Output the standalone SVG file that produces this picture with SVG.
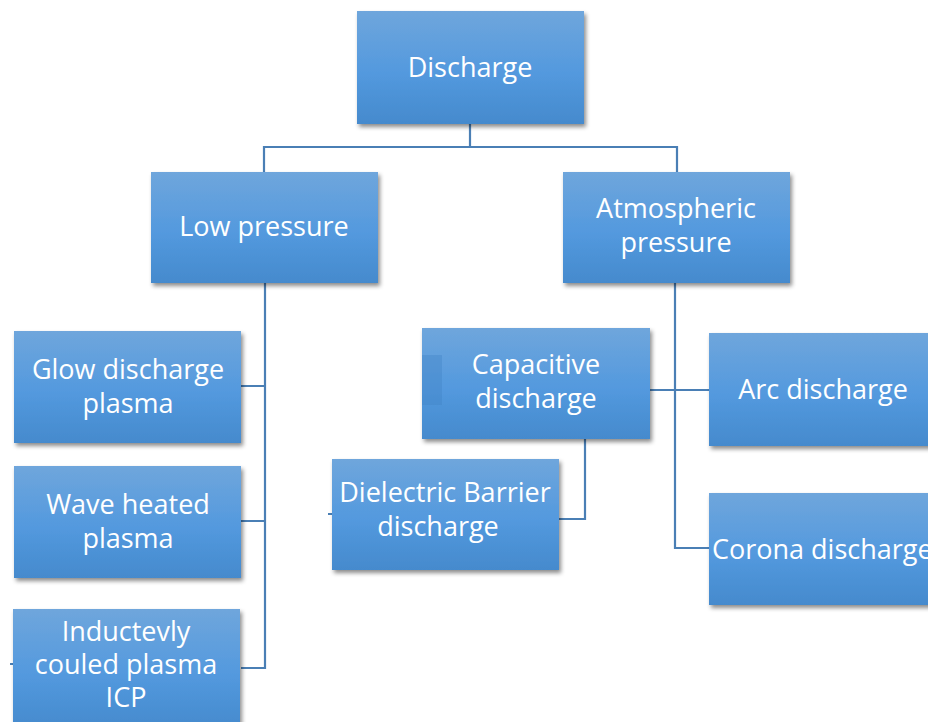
<svg xmlns="http://www.w3.org/2000/svg" width="928" height="722" viewBox="0 0 928 722">
<defs>
<linearGradient id="g" x1="0" y1="0" x2="0" y2="1">
<stop offset="0" stop-color="#6fa6dc"/>
<stop offset="0.55" stop-color="#5399de"/>
<stop offset="1" stop-color="#458acd"/>
</linearGradient>
<filter id="sh" x="-10%" y="-10%" width="125%" height="130%">
<feDropShadow dx="2" dy="3" stdDeviation="2" flood-color="#000" flood-opacity="0.45"/>
</filter>
</defs>
<style>
.box{fill:url(#g);filter:url(#sh)}
.t{font-family:"Open Sans","Noto Sans","DejaVu Sans",sans-serif;font-size:27px;fill:#fff;text-anchor:middle}
.c{fill:none;stroke:#4a7fb5;stroke-width:2.2}
</style>
<rect width="928" height="722" fill="#fff"/>
<g id="connectors">
<path class="c" d="M470 124V147M264 172V147H677V172"/>
<path class="c" d="M265 283V668H241M241 386H265M241 521H265"/>
<path class="c" d="M675 283V548H709M650 390H709"/>
<path class="c" d="M585 439V519H559M328 514H332M10 664H14"/>
</g>
<g id="discharge"><rect class="box" x="357" y="11" width="227" height="113"/><text class="t" x="470" y="77">Discharge</text></g>
<g id="low-pressure"><rect class="box" x="151" y="172" width="227" height="111"/><text class="t" x="264" y="236">Low pressure</text></g>
<g id="atmospheric-pressure"><rect class="box" x="563" y="172" width="227" height="111"/><text class="t" x="676" y="218">Atmospheric</text><text class="t" x="676" y="252">pressure</text></g>
<g id="glow"><rect class="box" x="14" y="331" width="227" height="112"/><text class="t" x="128" y="379">Glow discharge</text><text class="t" x="128" y="413">plasma</text></g>
<g id="wave"><rect class="box" x="14" y="466" width="227" height="112"/><text class="t" x="128" y="514">Wave heated</text><text class="t" x="128" y="548">plasma</text></g>
<g id="icp"><rect class="box" x="13" y="609" width="227" height="120"/><text class="t" x="126" y="641">Inductevly</text><text class="t" x="126" y="674">couled plasma</text><text class="t" x="126" y="707">ICP</text></g>
<g id="capacitive"><rect class="box" x="422" y="328" width="228" height="111"/><rect x="422" y="355" width="20" height="50" fill="#3f82c4" opacity="0.35"/><text class="t" x="536" y="374">Capacitive</text><text class="t" x="536" y="408">discharge</text></g>
<g id="dbd"><rect class="box" x="332" y="459" width="227" height="111"/><text class="t" x="445" y="502">Dielectric Barrier</text><text class="t" x="438" y="536">discharge</text></g>
<g id="arc"><rect class="box" x="709" y="333" width="227" height="113"/><text class="t" x="823" y="399">Arc discharge</text></g>
<g id="corona"><rect class="box" x="709" y="493" width="227" height="112"/><text class="t" x="712" y="559" style="text-anchor:start">Corona discharge</text></g>
</svg>
